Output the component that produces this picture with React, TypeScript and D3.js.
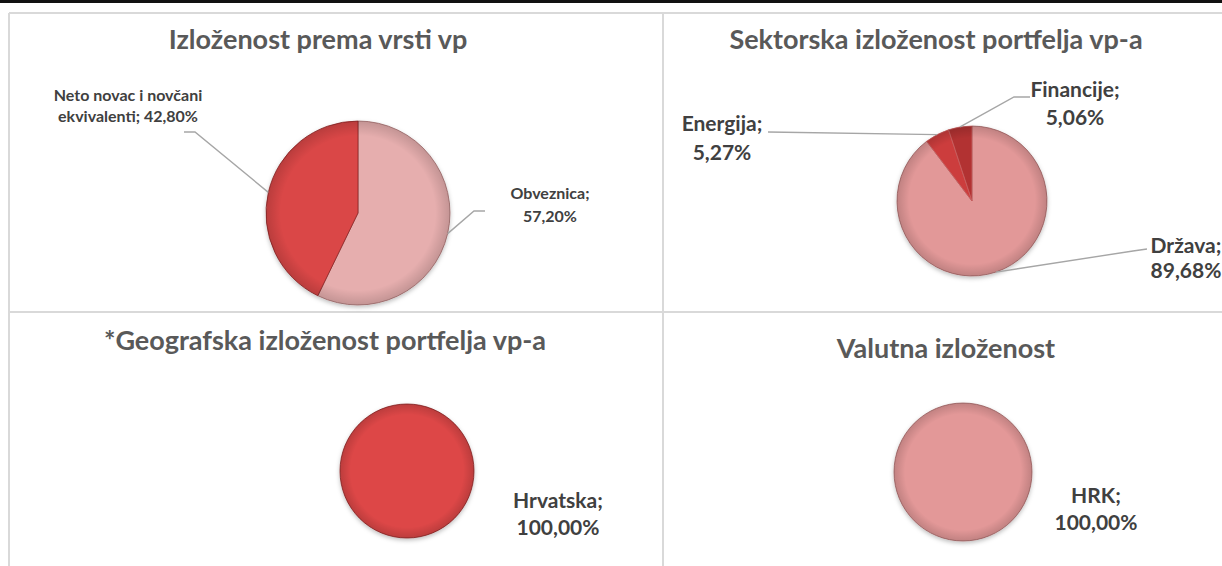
import React from "react";
import * as d3 from "d3";

// ---------- DATA ----------
const typeTitle = "Izloženost prema vrsti vp";
const typeCategories = ["Obveznica", "Neto novac i novčani ekvivalenti"];
const typeValues = [57.2, 42.8];

const sectorTitle = "Sektorska izloženost portfelja vp-a";
const sectorCategories = ["Država", "Energija", "Financije"];
const sectorValues = [89.68, 5.27, 5.06];

const geoTitle = "*Geografska izloženost portfelja vp-a";
const geoCategories = ["Hrvatska"];
const geoValues = [100];

const currencyTitle = "Valutna izloženost";
const currencyCategories = ["HRK"];
const currencyValues = [100];

// ---------- STYLE / LAYOUT ----------
const FONT = "Lato, 'Open Sans', 'DejaVu Sans', sans-serif";
const TITLE_COLOR = "#595959";
const LABEL_COLOR = "#404040";
const LEADER = "#a6a6a6";
const BORDER = "#d9d9d9";
const TITLE_SIZE = 27;

type Grad = [string, string, string]; // top, bottom, stroke
type LabelPos = {
  x: number;
  y: number;
  dy: number;
  size: number;
  elbow?: [number, number];
  end?: [number, number];
};
type Spec = {
  id: string;
  title: string;
  categories: string[];
  values: number[];
  colors: Grad[];
  cx: number;
  cy: number;
  r: number;
  titleX: number;
  titleY: number;
  labels: LabelPos[];
};

const fmt = (v: number) => d3.format(".2f")(v).replace(".", ",") + "%";

function labelLines(cat: string, v: number): string[] {
  const full = `${cat}; ${fmt(v)}`;
  if (cat.length <= 12) return [`${cat};`, fmt(v)];
  const words = full.split(" ");
  const lines: string[] = [];
  let cur = "";
  words.forEach((w) => {
    const t = cur ? cur + " " + w : w;
    if (t.length > 20 && cur) {
      lines.push(cur);
      cur = w;
    } else cur = t;
  });
  if (cur) lines.push(cur);
  return lines;
}

const specs: Spec[] = [
  {
    id: "type",
    title: typeTitle,
    categories: typeCategories,
    values: typeValues,
    colors: [
      ["#e6aeae", "#c28484", "#a06a6a"],
      ["#da4646", "#b33232", "#8a2424"],
    ],
    cx: 358,
    cy: 213,
    r: 92,
    titleX: 318,
    titleY: 49,
    labels: [
      { x: 550, y: 199, dy: 23, size: 16, elbow: [474, 211], end: [485, 211] },
      { x: 128, y: 101, dy: 21, size: 16, elbow: [195, 132], end: [184, 132] },
    ],
  },
  {
    id: "sector",
    title: sectorTitle,
    categories: sectorCategories,
    values: sectorValues,
    colors: [
      ["#e29898", "#b67070", "#a06262"],
      ["#cc3e3e", "#b23232", "#c86060"],
      ["#b23232", "#962828", "#c86060"],
    ],
    cx: 972,
    cy: 201,
    r: 75,
    titleX: 936,
    titleY: 49,
    labels: [
      { x: 1186, y: 253, dy: 25, size: 21, elbow: [1133, 251], end: [1147, 249] },
      { x: 722, y: 131, dy: 29, size: 21, end: [768, 132] },
      { x: 1075, y: 97, dy: 28, size: 21, elbow: [1014, 97], end: [1030, 97] },
    ],
  },
  {
    id: "geo",
    title: geoTitle,
    categories: geoCategories,
    values: geoValues,
    colors: [["#dd4747", "#b43333", "#8a2424"]],
    cx: 407,
    cy: 471,
    r: 67,
    titleX: 325,
    titleY: 350,
    labels: [{ x: 558, y: 508, dy: 27, size: 21 }],
  },
  {
    id: "cur",
    title: currencyTitle,
    categories: currencyCategories,
    values: currencyValues,
    colors: [["#e39898", "#bf7575", "#a06262"]],
    cx: 963,
    cy: 472,
    r: 69,
    titleX: 946,
    titleY: 358,
    labels: [{ x: 1096, y: 503, dy: 27, size: 21 }],
  },
];

function PieChart({ s }: { s: Spec }) {
  const pie = d3
    .pie<number>()
    .sort(null)
    .value((d) => d)
    .startAngle(0)
    .endAngle(2 * Math.PI);
  const arcs = pie(s.values);
  const arc = d3.arc<d3.PieArcDatum<number>>().innerRadius(0).outerRadius(s.r);
  const edge = (a: d3.PieArcDatum<number>): [number, number] => {
    const m = (a.startAngle + a.endAngle) / 2;
    return [s.cx + s.r * Math.sin(m), s.cy - s.r * Math.cos(m)];
  };
  return (
    <g>
      <defs>
        {s.colors.map((c, i) => (
          <linearGradient
            key={i}
            id={`g-${s.id}-${i}`}
            gradientUnits="userSpaceOnUse"
            x1={s.cx}
            y1={s.cy - s.r}
            x2={s.cx}
            y2={s.cy + s.r}
          >
            <stop offset="0" stopColor={c[0]} />
            <stop offset="1" stopColor={c[1]} />
          </linearGradient>
        ))}
        <radialGradient
          id={`bev-${s.id}`}
          gradientUnits="userSpaceOnUse"
          cx={s.cx}
          cy={s.cy}
          r={s.r}
        >
          <stop offset="0.84" stopColor="#000" stopOpacity="0" />
          <stop offset="1" stopColor="#000" stopOpacity="0.15" />
        </radialGradient>
      </defs>
      <text
        x={s.titleX}
        y={s.titleY}
        textAnchor="middle"
        fontFamily={FONT}
        fontWeight="bold"
        fontSize={TITLE_SIZE}
        fill={TITLE_COLOR}
      >
        {s.title}
      </text>
      <g filter="url(#shadow)">
        {arcs.map((a, i) => (
          <path
            key={i}
            d={arc(a) as string}
            transform={`translate(${s.cx},${s.cy})`}
            fill={`url(#g-${s.id}-${i})`}
            stroke={s.colors[i][2]}
            strokeWidth={0.8}
          />
        ))}
      </g>
      <circle cx={s.cx} cy={s.cy} r={s.r} fill={`url(#bev-${s.id})`} />
      {arcs.map((a, i) => {
        const L = s.labels[i];
        if (!L.end) return null;
        const pts: [number, number][] = [edge(a)];
        if (L.elbow) pts.push(L.elbow);
        pts.push(L.end);
        return (
          <path
            key={"l" + i}
            d={d3.line()(pts) as string}
            fill="none"
            stroke={LEADER}
            strokeWidth={1.4}
          />
        );
      })}
      {arcs.map((a, i) => {
        const L = s.labels[i];
        const lines = labelLines(s.categories[i], s.values[i]);
        return (
          <text
            key={"t" + i}
            textAnchor="middle"
            fontFamily={FONT}
            fontWeight="bold"
            fontSize={L.size}
            fill={LABEL_COLOR}
          >
            {lines.map((ln, j) => (
              <tspan key={j} x={L.x} y={L.y + j * L.dy}>
                {ln}
              </tspan>
            ))}
          </text>
        );
      })}
    </g>
  );
}

export default function App() {
  const W = 1222;
  const H = 566;
  return (
    <svg
      width={W}
      height={H}
      style={{ position: "fixed", left: 0, top: 0, background: "#fff" }}
    >
      <defs>
        <filter id="shadow" x="-20%" y="-20%" width="140%" height="150%">
          <feDropShadow dx="0" dy="2" stdDeviation="2" floodColor="#000" floodOpacity="0.25" />
        </filter>
      </defs>
      <rect x={0} y={0} width={W} height={3} fill="#111" />
      <g stroke={BORDER} strokeWidth={2} fill="none">
        <line x1={9} y1={13} x2={W} y2={13} />
        <line x1={9} y1={312} x2={W} y2={312} />
        <line x1={9} y1={13} x2={9} y2={H} />
        <line x1={663} y1={13} x2={663} y2={H} />
      </g>
      {specs.map((s) => (
        <PieChart key={s.id} s={s} />
      ))}
    </svg>
  );
}
